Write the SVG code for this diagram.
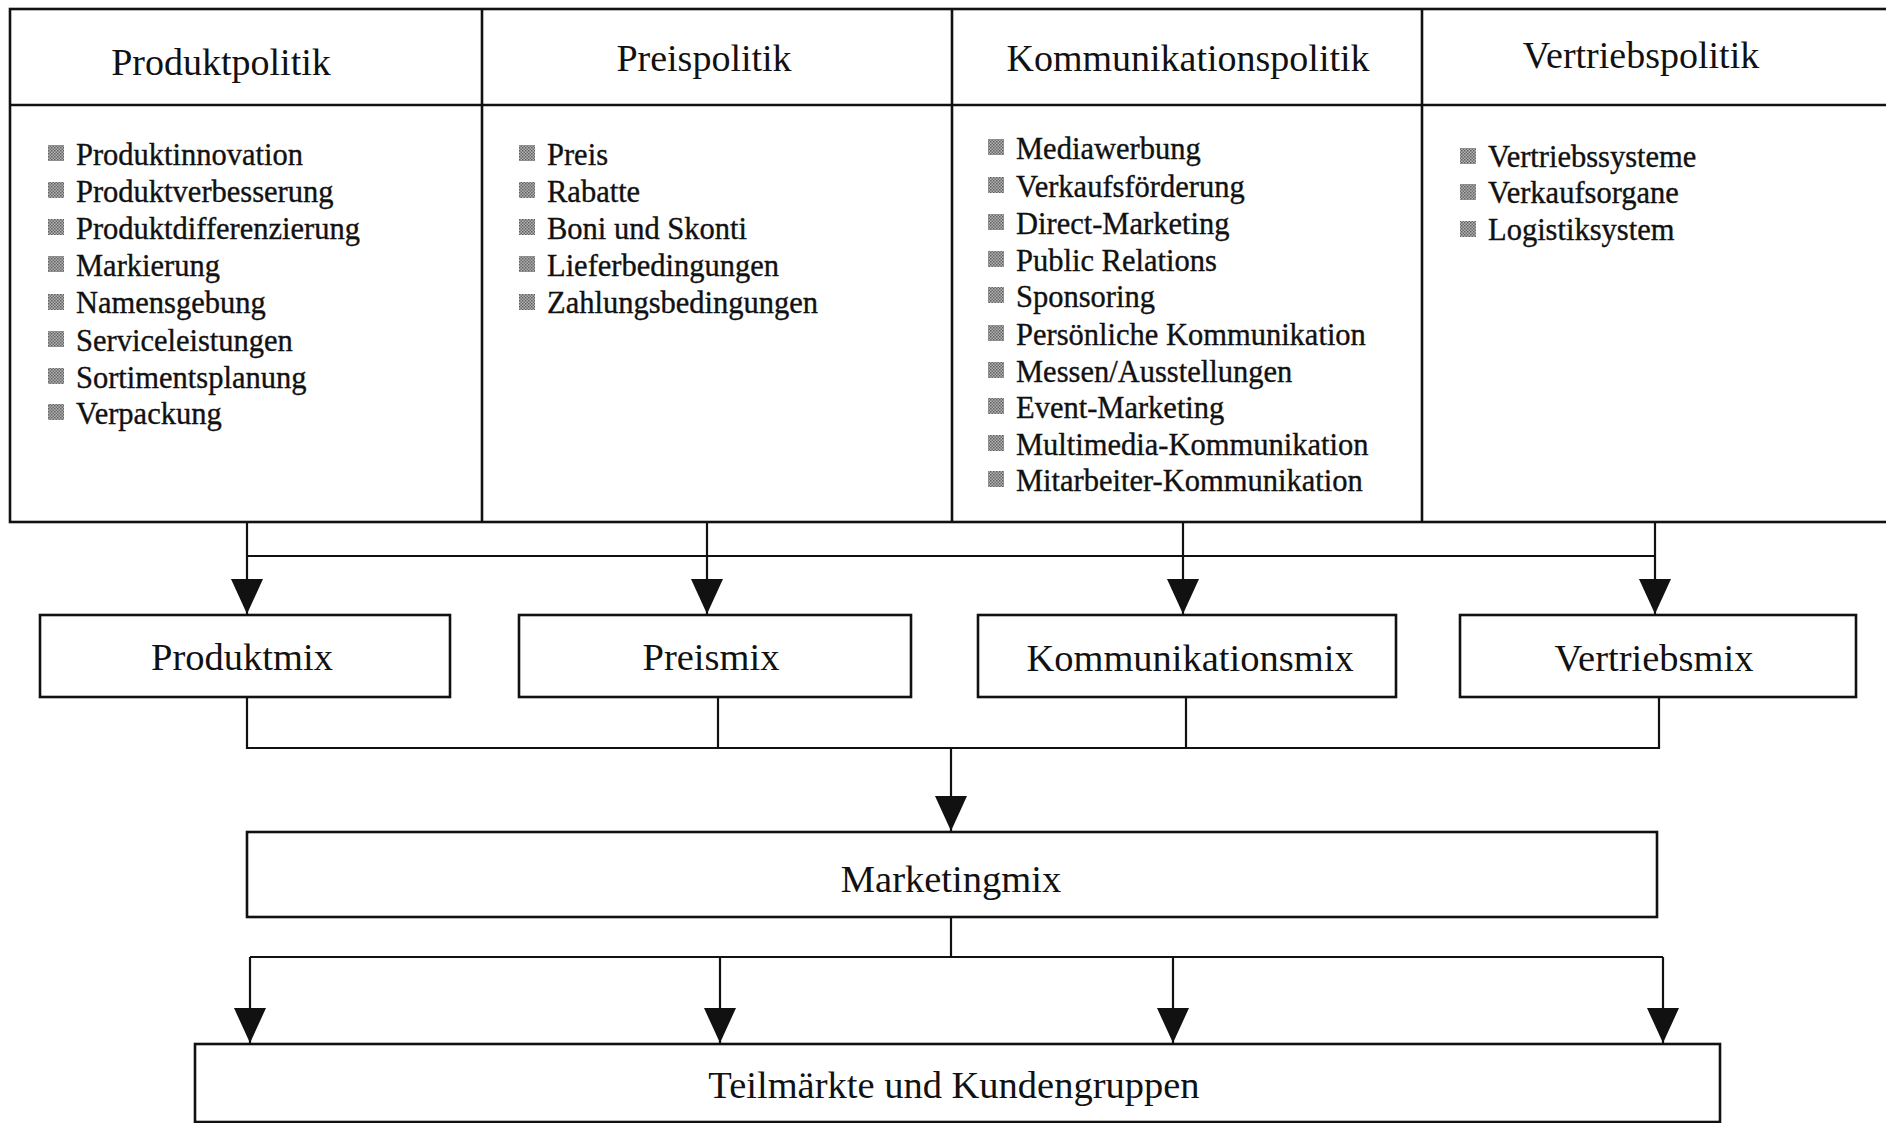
<svg xmlns="http://www.w3.org/2000/svg" width="1886" height="1123" viewBox="0 0 1886 1123">
  <defs>
    <pattern id="dots" width="3" height="3" patternUnits="userSpaceOnUse">
      <rect width="3" height="3" fill="#b4b4b4"/>
      <rect width="1.5" height="1.5" fill="#5e5e5e"/>
      <rect x="1.5" y="1.5" width="1.5" height="1.5" fill="#6a6a6a"/>
    </pattern>
    <marker id="arrow" markerUnits="userSpaceOnUse" markerWidth="36" markerHeight="32" refX="35" refY="16" orient="auto">
      <path d="M0,0 L35,16 L0,32 Z" fill="#111"/>
    </marker>
  </defs>
  <style>
    .frame { fill: none; stroke: #111; stroke-width: 2.6; }
    .box { fill: #fff; stroke: #111; stroke-width: 2.6; }
    .head { font-family: "Liberation Serif", "Times New Roman", serif; font-size: 38px; fill: #111; text-anchor: middle; }
    .mix { font-family: "Liberation Serif", "Times New Roman", serif; font-size: 38.5px; fill: #111; text-anchor: middle; }
    .item { font-family: "Liberation Serif", "Times New Roman", serif; font-size: 30.5px; fill: #111; stroke: #111; stroke-width: 0.35; }
    .bullet { fill: url(#dots); }
    .wire { fill: none; stroke: #111; stroke-width: 2.2; }
    .arrowed { marker-end: url(#arrow); }
  </style>
  <rect width="1886" height="1123" fill="#fff"/>

  <!-- policy table -->
  <g id="policy-table">
    <rect class="frame" x="10" y="9" width="1890" height="513"/>
    <line class="frame" x1="10" y1="105" x2="1886" y2="105"/>
    <line class="frame" x1="482" y1="9" x2="482" y2="522"/>
    <line class="frame" x1="952" y1="9" x2="952" y2="522"/>
    <line class="frame" x1="1422" y1="9" x2="1422" y2="522"/>
  </g>

  <g id="produktpolitik">
    <text class="head" x="221" y="75">Produktpolitik</text>
    <g class="bullets">
      <rect class="bullet" x="48" y="145" width="16" height="16"/>
      <rect class="bullet" x="48" y="182" width="16" height="16"/>
      <rect class="bullet" x="48" y="219" width="16" height="16"/>
      <rect class="bullet" x="48" y="256" width="16" height="16"/>
      <rect class="bullet" x="48" y="294" width="16" height="16"/>
      <rect class="bullet" x="48" y="331" width="16" height="16"/>
      <rect class="bullet" x="48" y="368" width="16" height="16"/>
      <rect class="bullet" x="48" y="404" width="16" height="16"/>
    </g>
    <text class="item" x="76" y="164.5">Produktinnovation</text>
    <text class="item" x="76" y="201.5">Produktverbesserung</text>
    <text class="item" x="76" y="238.5">Produktdifferenzierung</text>
    <text class="item" x="76" y="275.5">Markierung</text>
    <text class="item" x="76" y="313">Namensgebung</text>
    <text class="item" x="76" y="350.5">Serviceleistungen</text>
    <text class="item" x="76" y="387.5">Sortimentsplanung</text>
    <text class="item" x="76" y="423.5">Verpackung</text>
  </g>

  <g id="preispolitik">
    <text class="head" x="704" y="71">Preispolitik</text>
    <g class="bullets">
      <rect class="bullet" x="519" y="145" width="16" height="16"/>
      <rect class="bullet" x="519" y="182" width="16" height="16"/>
      <rect class="bullet" x="519" y="219" width="16" height="16"/>
      <rect class="bullet" x="519" y="256" width="16" height="16"/>
      <rect class="bullet" x="519" y="294" width="16" height="16"/>
    </g>
    <text class="item" x="547" y="164.5">Preis</text>
    <text class="item" x="547" y="201.5">Rabatte</text>
    <text class="item" x="547" y="238.5">Boni und Skonti</text>
    <text class="item" x="547" y="275.5">Lieferbedingungen</text>
    <text class="item" x="547" y="313">Zahlungsbedingungen</text>
  </g>

  <g id="kommunikationspolitik">
    <text class="head" x="1188" y="71">Kommunikationspolitik</text>
    <g class="bullets">
      <rect class="bullet" x="988" y="139" width="16" height="16"/>
      <rect class="bullet" x="988" y="177" width="16" height="16"/>
      <rect class="bullet" x="988" y="214" width="16" height="16"/>
      <rect class="bullet" x="988" y="251" width="16" height="16"/>
      <rect class="bullet" x="988" y="287" width="16" height="16"/>
      <rect class="bullet" x="988" y="325" width="16" height="16"/>
      <rect class="bullet" x="988" y="362" width="16" height="16"/>
      <rect class="bullet" x="988" y="398" width="16" height="16"/>
      <rect class="bullet" x="988" y="435" width="16" height="16"/>
      <rect class="bullet" x="988" y="471" width="16" height="16"/>
    </g>
    <text class="item" x="1016" y="158.5">Mediawerbung</text>
    <text class="item" x="1016" y="196.5">Verkaufsförderung</text>
    <text class="item" x="1016" y="233.5">Direct-Marketing</text>
    <text class="item" x="1016" y="270.5">Public Relations</text>
    <text class="item" x="1016" y="306.5">Sponsoring</text>
    <text class="item" x="1016" y="344.5">Persönliche Kommunikation</text>
    <text class="item" x="1016" y="381.5">Messen/Ausstellungen</text>
    <text class="item" x="1016" y="417.5">Event-Marketing</text>
    <text class="item" x="1016" y="454.5">Multimedia-Kommunikation</text>
    <text class="item" x="1016" y="490.5">Mitarbeiter-Kommunikation</text>
  </g>

  <g id="vertriebspolitik">
    <text class="head" x="1641" y="68">Vertriebspolitik</text>
    <g class="bullets">
      <rect class="bullet" x="1460" y="148" width="16" height="16"/>
      <rect class="bullet" x="1460" y="184" width="16" height="16"/>
      <rect class="bullet" x="1460" y="221" width="16" height="16"/>
    </g>
    <text class="item" x="1488" y="167">Vertriebssysteme</text>
    <text class="item" x="1488" y="203">Verkaufsorgane</text>
    <text class="item" x="1488" y="240">Logistiksystem</text>
  </g>

  <!-- connectors -->
  <g id="connectors">
    <!-- policies to the four mixes -->
    <line class="wire" x1="247" y1="556" x2="1655" y2="556"/>
    <line class="wire arrowed" x1="247" y1="522" x2="247" y2="614"/>
    <line class="wire arrowed" x1="707" y1="522" x2="707" y2="614"/>
    <line class="wire arrowed" x1="1183" y1="522" x2="1183" y2="614"/>
    <line class="wire arrowed" x1="1655" y1="522" x2="1655" y2="614"/>
    <!-- mixes into the marketing mix -->
    <polyline class="wire" points="247,697 247,748 1659,748 1659,697"/>
    <line class="wire" x1="718" y1="697" x2="718" y2="748"/>
    <line class="wire" x1="1186" y1="697" x2="1186" y2="748"/>
    <line class="wire arrowed" x1="951" y1="748" x2="951" y2="831"/>
    <!-- marketing mix out to the sub-markets -->
    <line class="wire" x1="951" y1="917" x2="951" y2="957"/>
    <line class="wire" x1="250" y1="957" x2="1663" y2="957"/>
    <line class="wire arrowed" x1="250" y1="957" x2="250" y2="1043"/>
    <line class="wire arrowed" x1="720" y1="957" x2="720" y2="1043"/>
    <line class="wire arrowed" x1="1173" y1="957" x2="1173" y2="1043"/>
    <line class="wire arrowed" x1="1663" y1="957" x2="1663" y2="1043"/>
  </g>

  <g id="produktmix">
    <rect class="box" x="40" y="615" width="410" height="82"/>
    <text class="mix" x="242" y="670">Produktmix</text>
  </g>
  <g id="preismix">
    <rect class="box" x="519" y="615" width="392" height="82"/>
    <text class="mix" x="711" y="670">Preismix</text>
  </g>
  <g id="kommunikationsmix">
    <rect class="box" x="978" y="615" width="418" height="82"/>
    <text class="mix" x="1190" y="671">Kommunikationsmix</text>
  </g>
  <g id="vertriebsmix">
    <rect class="box" x="1460" y="615" width="396" height="82"/>
    <text class="mix" x="1654" y="671">Vertriebsmix</text>
  </g>
  <g id="marketingmix">
    <rect class="box" x="247" y="832" width="1410" height="85"/>
    <text class="mix" x="951" y="892">Marketingmix</text>
  </g>
  <g id="teilmaerkte">
    <rect class="box" x="195" y="1044" width="1525" height="78"/>
    <text class="mix" x="954" y="1098">Teilmärkte und Kundengruppen</text>
  </g>
</svg>
